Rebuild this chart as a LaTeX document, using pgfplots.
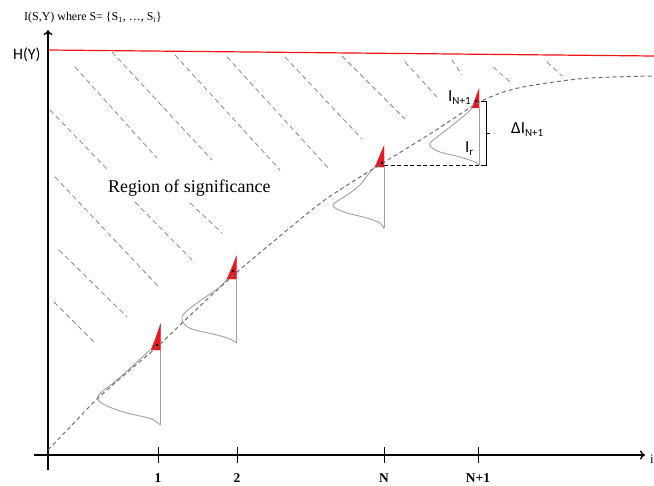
\documentclass[border=0pt]{standalone}
\usepackage{pgfplots}
\pgfplotsset{compat=1.18}
\usepackage{fontspec}
\setmainfont{Liberation Serif}
\newfontfamily\calibri{Carlito}
\usetikzlibrary{arrows.meta}
\definecolor{sigred}{RGB}{232,24,32}
\definecolor{hline}{RGB}{240,20,20}
\definecolor{hatch}{RGB}{135,135,135}
\definecolor{curve}{RGB}{110,110,110}
\definecolor{dens}{RGB}{160,160,160}

\begin{document}
\begin{tikzpicture}
\begin{axis}[
  at={(0,0)}, anchor=south west,
  scale only axis, width=654bp, height=486bp,
  xmin=0, xmax=654, ymin=0, ymax=486, y dir=reverse,
  hide axis, clip=false,
  hatchline/.style={hatch, line width=0.8bp, dash pattern=on 5bp off 3.5bp},
  densline/.style={dens, line width=0.9bp, smooth},
  tailfill/.style={fill=sigred, draw=sigred, line width=0.4bp},
]
% hatching of the region of significance
\addplot[hatchline] coordinates {(75,67) (157,158)};
\addplot[hatchline] coordinates {(112,52) (212,160)};
\addplot[hatchline] coordinates {(175,55) (280,170)};
\addplot[hatchline] coordinates {(227,57) (330,170)};
\addplot[hatchline] coordinates {(285,57) (362,139)};
\addplot[hatchline] coordinates {(342,56) (405,119)};
\addplot[hatchline] coordinates {(405,62) (437,97)};
\addplot[hatchline] coordinates {(452,60) (462,75)};
\addplot[hatchline] coordinates {(493,67) (510,82)};
\addplot[hatchline] coordinates {(547,62) (562,76)};
\addplot[hatchline] coordinates {(50,110) (108,170)};
\addplot[hatchline] coordinates {(55,177) (158,286)};
\addplot[hatchline] coordinates {(135,202) (195,263)};
\addplot[hatchline] coordinates {(190,203) (222,233)};
\addplot[hatchline] coordinates {(59,250) (127,317)};
\addplot[hatchline] coordinates {(54,302) (95,343)};

% entropy bound H(Y)
\addplot[hline, line width=1.2bp] coordinates {(48,50) (654,56)};

% axes
\addplot[black, line width=1.4bp, -{To[length=5bp,width=9bp]}] coordinates {(48,470) (48,30)};
\addplot[black, line width=1.4bp, -{To[length=5bp,width=9bp]}] coordinates {(34,455) (645,455)};
\addplot[black, line width=1bp] coordinates {(158,447) (158,463)};
\addplot[black, line width=1bp] coordinates {(237,447) (237,463)};
\addplot[black, line width=1bp] coordinates {(384,447) (384,463)};
\addplot[black, line width=1bp] coordinates {(478,447) (478,463)};

% baselines of the densities
\addplot[dens, line width=0.9bp] coordinates {(160.5,350) (160.5,425)};
\addplot[dens, line width=0.9bp] coordinates {(236.5,279) (236.5,343)};
\addplot[dens, line width=0.9bp] coordinates {(384,167) (384,228)};
\addplot[dens, line width=0.9bp] coordinates {(479,108) (479,165)};

% densities
\addplot[densline] coordinates {(150,350) (137,362) (117,380) (104,390) (98,396) (99,401) (107,406) (123,412) (140,416) (152,419) (160.5,425)};
\addplot[densline] coordinates {(227,279) (220,287) (207,296) (197,303) (188,310) (183,315) (182,320) (186,326) (195,330) (217,335) (230,339) (236.5,343)};
\addplot[densline] coordinates {(375,167) (370,172) (360,185) (347,195) (336,202) (333,205) (335,208) (347,213) (367,218) (380,223) (384,228)};
\addplot[densline] coordinates {(472,108) (465,115) (450,127) (437,137) (430,143) (431,147) (440,152) (460,157) (475,162) (479,165)};

% upper tails
\addplot[tailfill] coordinates {(151,350) (155,340) (158.5,330) (160.5,324) (160.5,350) (151,350)};
\addplot[tailfill] coordinates {(227,279) (230,272) (233,265) (235.3,259) (236.5,256) (236.5,279) (227,279)};
\addplot[tailfill] coordinates {(375,167) (378,160) (381,153) (383,148) (384,146) (384,167) (375,167)};
\addplot[tailfill] coordinates {(472,108) (474.5,101) (476.7,95) (478.3,91) (479,89) (479,108) (472,108)};

% mean information curve
\addplot[curve, line width=1bp, dash pattern=on 4bp off 3bp, smooth] coordinates {
  (48,450) (70,427) (98,398) (130,370) (158,346) (200,306) (236,273) (280,236)
  (322,202) (360,177) (383,163) (433,132) (478,103) (510,90) (547,83) (590,78) (652,76)};

% observed values
\addplot[only marks, mark=*, mark size=1.1bp, black] coordinates {(157,345) (233,271) (382,163) (476,101)};

% I_r reference and Delta I bracket
\addplot[black, line width=1bp, dash pattern=on 4bp off 2.5bp] coordinates {(384,165) (479,165)};
\addplot[black, line width=1bp] coordinates {(481,102) (486,102) (486,165) (481,165)};
\addplot[black, line width=1bp] coordinates {(486,133) (490,133)};

% labels
\node[anchor=base west, inner sep=0, font=\fontsize{12}{12}\selectfont] at (axis cs:24,20.7)
  {I(S,Y) where S= \{S\textsubscript{1}, …, S\textsubscript{i}\}};
\node[anchor=base west, inner sep=0, font=\calibri\fontsize{16}{16}\selectfont] at (axis cs:13,60) {H(Y)};
\node[anchor=base west, inner sep=0, font=\fontsize{18}{18}\selectfont] at (axis cs:108,192.5) {Region of significance};
\node[anchor=base west, inner sep=0, font=\calibri\fontsize{17}{17}\selectfont] at (axis cs:448,101.7)
  {I\raisebox{-2.5bp}{\fontsize{11}{11}\selectfont N+1}};
\node[anchor=base west, inner sep=0, font=\calibri\fontsize{17}{17}\selectfont] at (axis cs:511,133.3)
  {ΔI\raisebox{-3bp}{\fontsize{11}{11}\selectfont N+1}};
\node[anchor=base west, inner sep=0, font=\calibri\fontsize{17}{17}\selectfont] at (axis cs:465,152.7)
  {I\raisebox{-2.5bp}{\fontsize{11}{11}\selectfont r}};
\node[anchor=base, inner sep=0, font=\bfseries\fontsize{13.5}{13.5}\selectfont] at (axis cs:158,482.5) {1};
\node[anchor=base, inner sep=0, font=\bfseries\fontsize{13.5}{13.5}\selectfont] at (axis cs:237,482.5) {2};
\node[anchor=base, inner sep=0, font=\bfseries\fontsize{13.5}{13.5}\selectfont] at (axis cs:384,482.5) {N};
\node[anchor=base, inner sep=0, font=\bfseries\fontsize{13.5}{13.5}\selectfont] at (axis cs:478,482.5) {N+1};
\node[anchor=base west, inner sep=0, font=\fontsize{13}{13}\selectfont] at (axis cs:650,463) {i};
\end{axis}
\pgfresetboundingbox
\path[use as bounding box] (0,0) rectangle (654bp,486bp);
\end{tikzpicture}
\end{document}
